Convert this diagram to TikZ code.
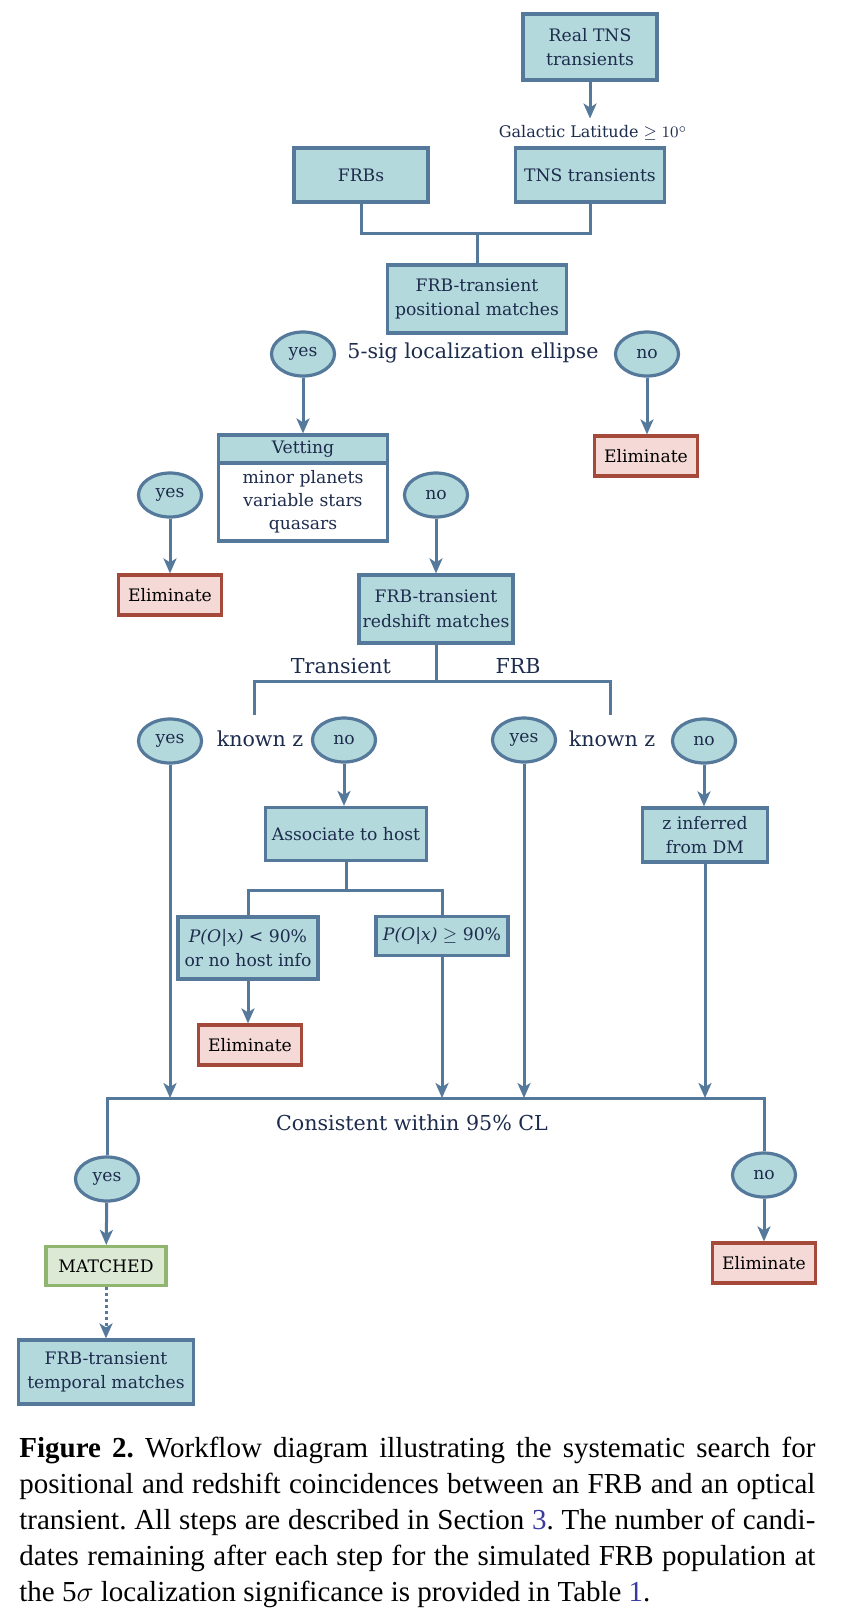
\documentclass[tikz,border=0pt]{standalone}
\usepackage{fontspec}
\setmainfont{DejaVu Serif}
\newfontfamily\capfont{Liberation Serif}
\usetikzlibrary{shapes.geometric, arrows.meta}
\definecolor{boxfill}{HTML}{B3D9DD}
\definecolor{boxline}{HTML}{55799B}
\definecolor{ink}{HTML}{1D2B4C}
\definecolor{elimfill}{HTML}{F4D9D6}
\definecolor{elimline}{HTML}{A5493A}
\definecolor{matchfill}{HTML}{DCE9D5}
\definecolor{matchline}{HTML}{8FB56E}
\definecolor{reflink}{HTML}{3A3A9E}
\frenchspacing

\begin{document}
\begin{tikzpicture}[x=0.5pt, y=-0.5pt,
    every node/.style={text=ink, font=\fontsize{8.6}{12.3}\selectfont},
    stage/.style={draw=boxline, fill=boxfill, line width=1.6pt, align=center, inner sep=0pt},
    choice/.style={ellipse, draw=boxline, fill=boxfill, line width=1.6pt, inner sep=0pt, minimum width=31.5pt, minimum height=22pt},
    drop/.style={stage, draw=elimline, fill=elimfill, text=black, minimum width=51.5pt, minimum height=20pt},
    big/.style={font=\fontsize{10.3}{12}\selectfont},
    flow/.style={draw=boxline, line width=1.5pt},
    go/.style={flow, -{Stealth[length=7.5pt, width=6.5pt, inset=2pt]}}]
    \useasboundingbox (0,0) rectangle (846,1623);
    \node[stage, minimum width=67pt, minimum height=33pt] (real) at (590,47) {Real TNS\\transients};
    \node[font=\fontsize{8}{10}\selectfont] (lat) at (593,133) {Galactic Latitude $\geq 10^\circ$};
    \node[stage, minimum width=67pt, minimum height=27pt] (frbs) at (361,175) {FRBs};
    \node[stage, minimum width=74.5pt, minimum height=27pt] (tns) at (590,175) {TNS transients};
    \coordinate (join) at (477,233);
    \node[stage, minimum width=89.5pt, minimum height=34pt] (pos) at (477,299) {FRB-transient\\positional matches};
    \node[choice] (yes1) at (303,354) {yes};
    \node[big] (sig) at (473,353) {5-sig localization ellipse};
    \node[choice] (no1) at (647,354) {no};
    \node[stage, minimum width=84.5pt, minimum height=14pt] (vethead) at (303,449) {Vetting};
    \node[stage, fill=white, minimum width=84.5pt, minimum height=39pt, font=\fontsize{8.6}{11.4}\selectfont] (vetbody) at (303,502) {minor planets\\variable stars\\quasars};
    \node[drop] (elim1) at (646,456) {Eliminate};
    \node[choice] (yes2) at (170,495) {yes};
    \node[choice] (no2) at (436,495) {no};
    \node[drop] (elim2) at (170,595) {Eliminate};
    \node[stage, minimum width=77pt, minimum height=34pt] (red) at (436,609) {FRB-transient\\redshift matches};
    \coordinate (split) at (436,681);
    \coordinate (tl) at (254,715);
    \coordinate (tr) at (610,715);
    \node[big] (trlab) at (341,666) {Transient};
    \node[big] (frblab) at (518,666) {FRB};
    \node[choice] (yes3) at (170,741) {yes};
    \node[big] (kz1) at (260,739) {known z};
    \node[choice] (no3) at (344,740) {no};
    \node[choice] (yes4) at (524,740) {yes};
    \node[big] (kz2) at (612,739) {known z};
    \node[choice] (no4) at (704,741) {no};
    \node[stage, minimum width=80.5pt, minimum height=26.5pt] (assoc) at (346,834) {Associate to host};
    \node[stage, minimum width=62.5pt, minimum height=27pt] (zinf) at (705,835) {z inferred\\from DM};
    \coordinate (hs) at (346,890);
    \node[stage, minimum width=70pt, minimum height=31pt] (plow) at (248,948) {\textit{P(O}|\textit{x)} < 90\%\\or no host info};
    \node[stage, minimum width=66pt, minimum height=19.5pt] (phigh) at (442,936) {\textit{P(O}|\textit{x)} $\geq$ 90\%};
    \node[drop] (elim3) at (250,1045) {Eliminate};
    \coordinate (mrg) at (412,1098);
    \node[big] (cons) at (412,1123) {Consistent within 95\% CL};
    \node[choice] (yes5) at (107,1179) {yes};
    \node[choice] (no5) at (764,1175) {no};
    \node[stage, draw=matchline, fill=matchfill, text=black, minimum width=60pt, minimum height=19.5pt] (matched) at (106,1266) {MATCHED};
    \node[drop] (elim4) at (764,1263) {Eliminate};
    \node[stage, minimum width=87.5pt, minimum height=32pt] (temporal) at (106,1372) {FRB-transient\\temporal matches};
    \draw[go] (real) -- (real |- lat.north);
    \draw[flow] (frbs) |- (join) -| (tns);
    \draw[flow] (join) -- (pos);
    \draw[go] (yes1) -- (vethead);
    \draw[go] (no1) -- (no1 |- elim1.north);
    \draw[go] (yes2) -- (elim2);
    \draw[go] (no2) -- (red);
    \draw[flow] (red) -- (split);
    \draw[flow] (tl) |- (split) -| (tr);
    \draw[go] (no3) -- (no3 |- assoc.north);
    \draw[go] (no4) -- (no4 |- zinf.north);
    \draw[flow] (assoc) -- (hs);
    \draw[flow] (plow) |- (hs) -| (phigh);
    \draw[go] (plow) -- (plow |- elim3.north);
    \draw[go] (yes3) -- (yes3 |- mrg);
    \draw[go] (phigh) -- (phigh |- mrg);
    \draw[go] (yes4) -- (yes4 |- mrg);
    \draw[go] (zinf) -- (zinf |- mrg);
    \draw[flow] (yes5) |- (mrg) -| (no5);
    \draw[go] (yes5) -- (matched);
    \draw[go, dash pattern=on 1.5pt off 1.5pt] (matched) -- (temporal);
    \draw[go] (no5) -- (elim4);
    \node[anchor=north west, inner sep=0pt, text width=398pt, align=justify, text=black, font={\capfont\fontsize{14.5}{18}\selectfont}] (caption) at (19,1437) {\textbf{Figure 2.} Workflow diagram illustrating the systematic search for\linebreak positional and redshift coincidences between an FRB and an optical\linebreak transient. All steps are described in Section {\color{reflink}3}. The number of candi-\linebreak dates remaining after each step for the simulated FRB population at\linebreak the 5$\sigma$ localization significance is provided in Table {\color{reflink}1}.};
\end{tikzpicture}
\end{document}
